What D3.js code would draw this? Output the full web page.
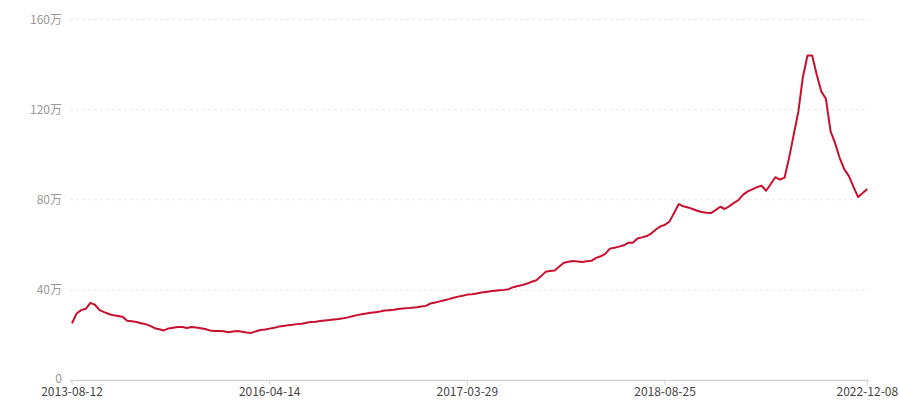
<!DOCTYPE html>
<html>
<head>
<meta charset="utf-8">
<script src="https://cdn.jsdelivr.net/npm/d3@7"></script>
<style>
  html, body { margin: 0; padding: 0; background: #fff; }
  svg { display: block; font-family: "Noto Sans CJK SC", "Noto Sans", sans-serif; }
</style>
</head>
<body>
<svg id="chart" width="900" height="400"></svg>
<script>
// Series values (unit: 万), one per category index
const values = [
  25.2, 29.5, 31.0, 31.6, 34.2, 33.4, 31.0, 30.1, 29.3, 28.7,
  28.4, 28.1, 26.3, 26.1, 25.7, 25.2, 24.8, 24.0, 23.0, 22.5,
  22.0, 22.9, 23.2, 23.5, 23.5, 23.1, 23.5, 23.3, 23.0, 22.6,
  22.0, 21.7, 21.8, 21.6, 21.2, 21.5, 21.7, 21.4, 21.1, 20.9,
  21.6, 22.2, 22.4, 22.8, 23.2, 23.7, 24.0, 24.3, 24.5, 24.8,
  25.0, 25.4, 25.7, 25.9, 26.2, 26.4, 26.6, 26.9, 27.1, 27.4,
  27.8, 28.3, 28.8, 29.2, 29.5, 29.8, 30.1, 30.4, 30.8, 31.0,
  31.2, 31.5, 31.7, 31.9, 32.1, 32.3, 32.6, 32.9, 34.0, 34.4,
  34.9, 35.4, 35.9, 36.5, 37.0, 37.4, 37.9, 38.1, 38.4, 38.8,
  39.1, 39.4, 39.6, 39.8, 40.0, 40.3, 41.2, 41.7, 42.2, 42.8,
  43.6, 44.3, 46.0, 48.0, 48.4, 48.6, 50.4, 52.0, 52.5, 52.8,
  52.6, 52.4, 52.7, 52.9, 54.2, 54.9, 56.0, 58.3, 58.7, 59.2,
  59.8, 60.9, 60.9, 62.8, 63.3, 63.9, 65.0, 66.8, 68.2, 68.9,
  70.4, 74.2, 78.1, 77.1, 76.6, 75.9, 75.1, 74.6, 74.2, 74.1,
  75.4, 76.9, 75.9, 77.2, 78.6, 79.9, 82.3, 83.7, 84.6, 85.6,
  86.2, 84.0, 87.0, 90.0, 88.9, 89.8, 98.7, 108.9, 119.1, 134.6,
  144.0, 144.0, 135.5, 128.0, 124.8, 110.5, 105.1, 98.5, 93.5, 90.5,
  85.7, 81.2, 83.0, 84.8
];

// Category tick labels shown on the x axis (index into values)
const tickIndex = [0, 43, 86, 129, 173];
const tickLabels = ["2013-08-12", "2016-04-14", "2017-03-29", "2018-08-25", "2022-12-08"];

// Y axis ticks (万)
const yTicks = [0, 40, 80, 120, 160];

const svg = d3.select("#chart");

const x = d3.scaleLinear().domain([0, values.length - 1]).range([72, 867.3]);
const y = d3.scaleLinear().domain([0, 160]).range([380, 19.5]);

const gridLeft = 70, gridRight = 869;

// Grid lines (dashed) for non-zero ticks
svg.append("g")
  .selectAll("line")
  .data(yTicks.filter(d => d > 0))
  .join("line")
  .attr("x1", gridLeft).attr("x2", gridRight)
  .attr("y1", d => y(d)).attr("y2", d => y(d))
  .attr("stroke", "#e8e8e8")
  .attr("stroke-width", 1)
  .attr("stroke-dasharray", "3,3");

// Y labels
svg.append("g")
  .selectAll("text")
  .data(yTicks)
  .join("text")
  .attr("x", 62)
  .attr("y", d => y(d) - (d === 0 ? 1 : 0))
  .attr("dy", "0.35em")
  .attr("text-anchor", "end")
  .attr("fill", "#999")
  .attr("font-size", 12)
  .text(d => d === 0 ? "0" : d + "万");

// X axis line
svg.append("line")
  .attr("x1", gridLeft).attr("x2", gridRight)
  .attr("y1", y(0) + 0.5).attr("y2", y(0) + 0.5)
  .attr("stroke", "#d4d4d4")
  .attr("stroke-width", 1.5);

// X ticks and labels
const xt = svg.append("g")
  .selectAll("g")
  .data(tickIndex.map((d, i) => ({ i: d, label: tickLabels[i] })))
  .join("g")
  .attr("transform", d => `translate(${x(d.i)},0)`);

xt.append("line")
  .attr("y1", y(0)).attr("y2", y(0) + 5)
  .attr("stroke", "#d4d4d4")
  .attr("stroke-width", 1);

xt.append("text")
  .attr("y", 396)
  .attr("text-anchor", "middle")
  .attr("fill", "#444")
  .attr("font-size", 12)
  .text(d => d.label);

// Line
const line = d3.line()
  .x((d, i) => x(i))
  .y(d => y(d));

svg.append("path")
  .datum(values)
  .attr("fill", "none")
  .attr("stroke", "#c8102e")
  .attr("stroke-width", 2)
  .attr("stroke-linejoin", "round")
  .attr("d", line);
</script>
</body>
</html>
